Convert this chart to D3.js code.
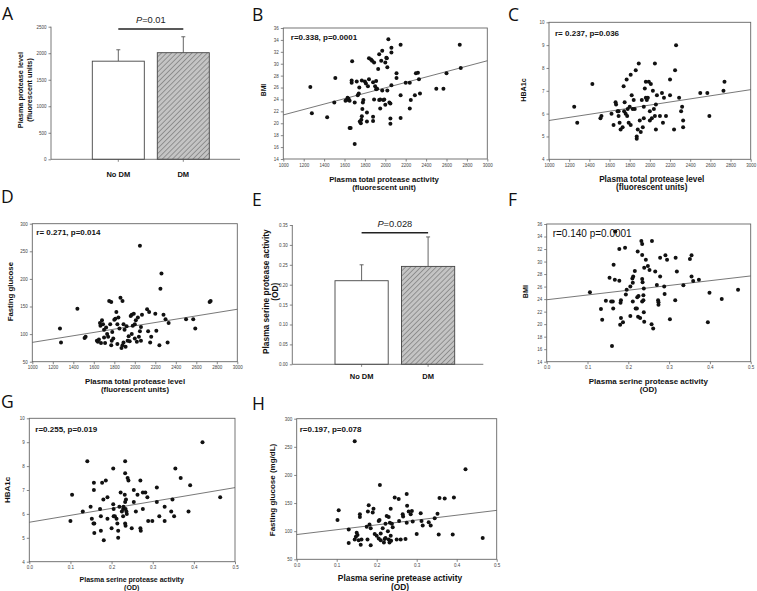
<!DOCTYPE html>
<html><head><meta charset="utf-8">
<script src="https://cdn.jsdelivr.net/npm/d3@7/dist/d3.min.js"></script>
<style>body{margin:0;background:#fff}svg{display:block}</style>
</head><body><svg id="c" width="757" height="591"></svg>
<script>
// ---------------- DATA ----------------
const categories = ["No DM", "DM"];
const meansA = [1850, 2010];
const errsA = [215, 300];
const ticksA = [0, 500, 1000, 1500, 2000, 2500];
const meansE = [0.21, 0.246];
const errsE = [0.04, 0.074];
const ticksE = [0, 0.05, 0.10, 0.15, 0.20, 0.25, 0.30, 0.35];

const ticksTotal = [1000, 1200, 1400, 1600, 1800, 2000, 2200, 2400, 2600, 2800, 3000];
const ticksSerine = [0, 0.1, 0.2, 0.3, 0.4, 0.5];
const ticksBMI = [14, 16, 18, 20, 22, 24, 26, 28, 30, 32, 34, 36];
const ticksHBA = [4, 5, 6, 7, 8, 9, 10];
const ticksGlu = [50, 100, 150, 200, 250, 300];

// regression line values at the two ends of the x domain
const fitB = [21.4, 30.5];
const fitC = [5.7, 7.05];
const fitD = [85, 145];
const fitF = [23.9, 27.7];
const fitG = [5.65, 7.1];
const fitH = [94, 137];

const pointsB = [[1265,26.1],[1280,21.7],[1430,21.0],[1510,27.6],[1500,23.5],[1620,23.9],[1630,24.3],[1640,24.1],[1650,23.8],[1610,23.8],[1650,19.2],[1660,19.2],[1675,30.4],[1670,27.2],[1670,26.8],[1700,23.5],[1700,16.5],[1720,27.0],[1730,24.7],[1740,25.0],[1745,26.0],[1750,20.3],[1760,20.0],[1765,20.6],[1770,21.2],[1775,22.4],[1770,27.2],[1780,23.5],[1785,23.9],[1800,27.0],[1810,26.7],[1820,21.8],[1820,20.3],[1830,26.2],[1840,27.4],[1840,30.9],[1860,30.7],[1870,30.5],[1880,20.4],[1880,21.1],[1880,26.9],[1890,30.2],[1890,24.0],[1900,26.2],[1910,27.1],[1910,25.7],[1920,25.8],[1930,29.1],[1940,31.6],[1940,23.9],[1950,22.5],[1950,24.0],[1960,30.5],[1970,32.2],[1970,25.5],[1980,23.9],[1990,24.0],[2000,23.1],[2000,30.2],[2010,31.0],[2015,30.9],[2020,29.4],[2020,25.5],[2030,34.1],[2040,23.5],[2050,23.3],[2050,20.8],[2050,19.9],[2060,26.4],[2060,32.7],[2060,31.9],[2110,27.6],[2110,28.4],[2150,33.2],[2150,24.7],[2150,20.9],[2200,26.8],[2240,26.8],[2240,22.5],[2250,23.9],[2290,24.7],[2300,28.4],[2320,28.5],[2330,27.4],[2340,25.0],[2500,25.8],[2570,25.8],[2600,28.4],[2730,33.2],[2740,29.3]];

const pointsC = [[1250,6.3],[1280,5.6],[1430,7.3],[1510,5.8],[1520,5.9],[1620,6.0],[1640,5.5],[1660,6.5],[1665,6.4],[1680,6.1],[1690,6.1],[1690,5.9],[1700,5.6],[1710,5.3],[1730,5.4],[1740,7.2],[1745,6.1],[1750,6.5],[1760,6.0],[1770,7.5],[1775,5.9],[1780,6.2],[1790,5.6],[1800,6.3],[1810,7.7],[1810,5.5],[1820,6.8],[1830,6.2],[1840,6.6],[1850,6.2],[1860,7.9],[1870,5.0],[1870,4.9],[1880,5.3],[1890,8.2],[1900,5.7],[1910,5.2],[1920,6.6],[1930,5.4],[1940,6.3],[1940,5.8],[1950,7.1],[1960,6.7],[1960,7.4],[1970,6.6],[1980,6.7],[1990,7.4],[2000,6.1],[2000,5.7],[2010,7.3],[2020,5.8],[2030,7.0],[2040,6.2],[2050,8.2],[2050,5.9],[2060,5.3],[2060,6.4],[2070,6.8],[2100,5.9],[2120,6.9],[2130,5.6],[2140,6.7],[2160,5.9],[2200,7.5],[2200,6.8],[2240,5.3],[2250,7.9],[2260,9.0],[2290,6.7],[2310,6.1],[2320,6.3],[2330,5.4],[2330,5.7],[2500,6.9],[2570,6.9],[2590,5.9],[2730,7.0],[2740,7.4]];

const pointsD = [[1270,110],[1280,85],[1440,146],[1510,93],[1520,95],[1630,88],[1640,86],[1650,90],[1660,120],[1665,115],[1670,84],[1680,125],[1690,118],[1700,94],[1700,108],[1710,84],[1720,112],[1730,100],[1740,95],[1750,160],[1760,118],[1770,80],[1770,158],[1775,88],[1780,104],[1790,92],[1800,126],[1810,128],[1820,140],[1830,118],[1830,82],[1840,130],[1850,110],[1860,166],[1870,75],[1880,160],[1880,80],[1890,85],[1890,118],[1900,108],[1910,77],[1920,114],[1930,88],[1940,96],[1950,87],[1960,133],[1970,100],[1970,135],[1980,115],[1990,137],[2000,92],[2000,118],[2010,125],[2020,86],[2030,130],[2040,95],[2050,260],[2050,105],[2060,113],[2060,88],[2070,135],[2120,145],[2130,105],[2140,140],[2150,85],[2160,95],[2200,137],[2210,106],[2240,80],[2250,182],[2260,210],[2280,135],[2300,127],[2320,85],[2330,120],[2500,127],[2570,127],[2590,110],[2730,158],[2740,160]];

const pointsF = [[0.106,25.1],[0.133,22.4],[0.136,20.7],[0.145,23.75],[0.154,27.4],[0.158,23.6],[0.162,23.6],[0.160,16.5],[0.164,29.5],[0.167,27.1],[0.163,22.5],[0.168,34.8],[0.178,32.0],[0.192,32.2],[0.178,26.95],[0.181,23.4],[0.182,23.8],[0.180,19.9],[0.182,21.0],[0.187,20.3],[0.194,24.75],[0.196,25.5],[0.216,28.5],[0.205,26.0],[0.211,26.6],[0.210,27.3],[0.212,27.6],[0.211,23.6],[0.205,21.3],[0.218,22.5],[0.221,22.5],[0.223,31.6],[0.222,24.3],[0.225,24.5],[0.224,21.2],[0.229,21.0],[0.232,33.3],[0.234,32.8],[0.234,31.05],[0.234,27.2],[0.235,26.7],[0.234,23.6],[0.237,23.8],[0.237,24.6],[0.238,25.7],[0.238,21.9],[0.239,20.4],[0.239,29.0],[0.243,30.3],[0.248,29.3],[0.252,28.65],[0.257,20.0],[0.261,19.3],[0.258,33.3],[0.266,28.4],[0.270,26.25],[0.273,23.8],[0.274,23.5],[0.274,23.1],[0.278,27.6],[0.278,30.6],[0.288,26.0],[0.289,24.8],[0.291,31.0],[0.295,30.3],[0.302,20.8],[0.315,23.8],[0.316,30.6],[0.319,28.4],[0.335,26.2],[0.351,30.4],[0.355,31.0],[0.355,27.6],[0.359,26.9],[0.373,27.1],[0.395,20.3],[0.399,25.0],[0.429,24.0],[0.469,25.5]];

const pointsG = [[0.100,5.7],[0.104,6.8],[0.130,6.1],[0.141,8.2],[0.149,6.3],[0.152,5.8],[0.156,5.6],[0.158,5.6],[0.157,7.3],[0.157,7.0],[0.158,5.2],[0.172,6.2],[0.174,5.9],[0.174,5.3],[0.177,7.3],[0.180,6.6],[0.181,4.9],[0.186,7.4],[0.190,6.7],[0.190,5.8],[0.200,5.4],[0.204,7.9],[0.204,6.4],[0.205,6.2],[0.205,5.9],[0.208,5.9],[0.212,5.8],[0.214,5.6],[0.216,5.3],[0.216,5.0],[0.219,6.3],[0.222,6.9],[0.225,6.1],[0.228,6.2],[0.229,6.3],[0.228,5.9],[0.232,6.8],[0.233,8.2],[0.233,7.7],[0.233,6.5],[0.235,6.6],[0.234,6.2],[0.236,6.1],[0.233,5.6],[0.234,5.5],[0.237,6.0],[0.239,7.5],[0.241,7.4],[0.249,5.4],[0.254,7.0],[0.254,6.5],[0.259,6.1],[0.263,6.8],[0.270,7.4],[0.270,5.4],[0.271,5.3],[0.276,6.2],[0.276,6.9],[0.282,6.9],[0.287,6.7],[0.289,5.7],[0.299,5.7],[0.310,7.1],[0.310,6.5],[0.316,5.9],[0.329,6.3],[0.329,5.7],[0.345,6.1],[0.348,6.6],[0.352,5.9],[0.355,7.9],[0.368,7.5],[0.387,6.1],[0.391,7.2],[0.421,9.0],[0.464,6.7]];

const pointsH = [[0.102,120],[0.105,137],[0.130,103],[0.130,79],[0.145,260],[0.145,85],[0.148,90],[0.150,97],[0.152,93],[0.155,84],[0.158,125],[0.158,130],[0.160,76],[0.162,85],[0.175,108],[0.177,85],[0.178,135],[0.180,146],[0.182,112],[0.185,105],[0.185,75],[0.190,133],[0.192,140],[0.195,95],[0.200,92],[0.205,87],[0.205,118],[0.207,120],[0.208,182],[0.210,84],[0.210,96],[0.215,105],[0.218,80],[0.220,86],[0.222,88],[0.222,113],[0.225,127],[0.228,100],[0.230,125],[0.230,85],[0.232,80],[0.233,115],[0.235,140],[0.235,92],[0.236,83],[0.238,113],[0.240,107],[0.245,160],[0.250,85],[0.255,157],[0.256,118],[0.260,85],[0.265,130],[0.266,126],[0.272,86],[0.275,115],[0.275,166],[0.276,145],[0.280,135],[0.285,130],[0.288,136],[0.290,117],[0.300,95],[0.310,132],[0.312,118],[0.315,110],[0.330,116],[0.335,110],[0.345,123],[0.352,131],[0.355,94],[0.357,159],[0.370,158],[0.390,94],[0.393,160],[0.422,210],[0.465,88]];

// ---------------- DRAWING ----------------
const svg = d3.select("#c");
const FONT = "'Liberation Sans', Arial, sans-serif";
const defs = svg.append("defs");
const pat = defs.append("pattern").attr("id","hatch").attr("patternUnits","userSpaceOnUse")
  .attr("width",3.6).attr("height",3.6).attr("patternTransform","rotate(45)");
pat.append("rect").attr("width",3.6).attr("height",3.6).attr("fill","#c4c4c4");
pat.append("line").attr("x1",0).attr("y1",0).attr("x2",0).attr("y2",3.6).attr("stroke","#666").attr("stroke-width",1.1);

function styleTicks(g){
  g.selectAll("text").attr("font-family",FONT).attr("font-size",4.5).attr("fill","#444");
  g.selectAll("line").attr("stroke","#555").attr("stroke-width",0.7);
  g.select(".domain").remove();
}

function panelLetter(t, x, y){
  svg.append("text").attr("x",x).attr("y",y).text(t)
    .attr("font-family","'Open Sans', 'Noto Sans', sans-serif").attr("font-size",17.5).attr("fill","#111");
}

function rotLabel(lines, x0, yc, size, gap){
  lines.forEach((s,i)=>{
    svg.append("text").attr("transform",`translate(${x0+i*gap},${yc}) rotate(-90)`)
      .attr("text-anchor","middle").attr("dominant-baseline","central")
      .attr("font-family",FONT).attr("font-weight","bold").attr("font-size",size).attr("fill","#111").text(s);
  });
}
function hLabel(lines, xc, y0, size, gap){
  lines.forEach((s,i)=>{
    svg.append("text").attr("x",xc).attr("y",y0+i*gap).attr("text-anchor","middle")
      .attr("font-family",FONT).attr("font-weight","bold").attr("font-size",size).attr("fill","#111").text(s);
  });
}

function scatter(c){
  const x = d3.scaleLinear().domain(c.xd).range([c.l, c.r]);
  const y = d3.scaleLinear().domain(c.yd).range([c.b, c.t]);
  const g = svg.append("g");
  g.append("g").attr("transform",`translate(0,${c.b})`)
    .call(d3.axisBottom(x).tickValues(c.xt).tickSize(2.5).tickPadding(2).tickFormat(c.xf)).call(styleTicks);
  g.append("g").attr("transform",`translate(${c.l},0)`)
    .call(d3.axisLeft(y).tickValues(c.yt).tickSize(2.5).tickPadding(2).tickFormat(c.yf)).call(styleTicks);
  g.append("rect").attr("x",c.l).attr("y",c.t).attr("width",c.r-c.l).attr("height",c.b-c.t)
    .attr("fill","none").attr("stroke","#666").attr("stroke-width",0.9);
  g.append("line").attr("x1",x(c.xd[0])).attr("y1",y(c.fit[0])).attr("x2",x(c.xd[1])).attr("y2",y(c.fit[1]))
    .attr("stroke","#555").attr("stroke-width",0.8);
  g.selectAll("circle").data(c.pts).join("circle")
    .attr("cx",d=>x(d[0])).attr("cy",d=>y(d[1])).attr("r",2).attr("fill","#111");
  g.append("text").attr("x",c.l+c.annDx).attr("y",c.t+c.annDy).text(c.ann)
    .attr("font-family",FONT).attr("font-weight",c.annW||"bold").attr("font-size",c.annS||8).attr("fill","#111");
}

function bars(c){
  const x = d3.scaleBand().domain(categories).range([c.bl, c.br]).paddingInner(0.2).paddingOuter(0.1);
  const y = d3.scaleLinear().domain([c.yt[0], c.yt[c.yt.length-1]]).range([c.b, c.t]);
  const g = svg.append("g");
  g.append("g").attr("transform",`translate(${c.l},0)`)
    .call(d3.axisLeft(y).tickValues(c.yt).tickSize(2.5).tickPadding(2).tickFormat(c.yf)).call(styleTicks);
  g.append("line").attr("x1",c.l).attr("x2",c.l).attr("y1",c.b).attr("y2",c.t).attr("stroke","#555").attr("stroke-width",0.8);
  g.selectAll("line.err").data(categories).join("line").attr("class","err")
    .attr("x1",d=>x(d)+x.bandwidth()/2).attr("x2",d=>x(d)+x.bandwidth()/2)
    .attr("y1",(d,i)=>y(c.means[i])).attr("y2",(d,i)=>y(c.means[i]+c.errs[i]))
    .attr("stroke","#555").attr("stroke-width",0.9);
  g.selectAll("line.cap").data(categories).join("line").attr("class","cap")
    .attr("x1",d=>x(d)+x.bandwidth()/2-2).attr("x2",d=>x(d)+x.bandwidth()/2+2)
    .attr("y1",(d,i)=>y(c.means[i]+c.errs[i])).attr("y2",(d,i)=>y(c.means[i]+c.errs[i]))
    .attr("stroke","#555").attr("stroke-width",0.9);
  g.selectAll("rect.bar").data(categories).join("rect").attr("class","bar")
    .attr("x",d=>x(d)).attr("width",x.bandwidth())
    .attr("y",(d,i)=>y(c.means[i])).attr("height",(d,i)=>y(0)-y(c.means[i]))
    .attr("fill",(d,i)=>i===0?"#fff":"url(#hatch)").attr("stroke","#444").attr("stroke-width",0.9);
  g.append("line").attr("x1",c.l).attr("x2",c.xr).attr("y1",c.b).attr("y2",c.b).attr("stroke","#555").attr("stroke-width",0.8);
  g.selectAll("line.ct").data(categories).join("line").attr("class","ct")
    .attr("x1",d=>x(d)+x.bandwidth()/2).attr("x2",d=>x(d)+x.bandwidth()/2)
    .attr("y1",c.b).attr("y2",c.b+2.5).attr("stroke","#555").attr("stroke-width",0.7);
  g.selectAll("text.cat").data(categories).join("text").attr("class","cat")
    .attr("x",d=>x(d)+x.bandwidth()/2).attr("y",c.b+c.catDy).attr("text-anchor","middle").text(d=>d)
    .attr("font-family",FONT).attr("font-weight","bold").attr("font-size",7.5).attr("fill","#111");
  const cx0 = x(categories[0])+x.bandwidth()/2, cx1 = x(categories[1])+x.bandwidth()/2;
  g.append("line").attr("x1",cx0).attr("x2",cx1).attr("y1",c.brY).attr("y2",c.brY).attr("stroke","#222").attr("stroke-width",1.5);
  const t = g.append("text").attr("x",(cx0+cx1)/2).attr("y",c.brY-c.pDy).attr("text-anchor","middle")
    .attr("font-family",FONT).attr("font-size",9.3).attr("fill","#222");
  t.append("tspan").attr("font-style","italic").text("P");
  t.append("tspan").text(c.p);
}

const f0 = d3.format(".0f"), f1 = d3.format(".1f"), f2 = d3.format(".2f");

// A
panelLetter("A", 2, 20);
bars({l:51, xr:240, bl:85.8, br:215.8, b:159.3, t:26.7, yt:ticksA, yf:f0, means:meansA, errs:errsA, catDy:18, brY:29, pDy:6, p:"=0.01"});
rotLabel(["Plasma protease level","(fluorescent units)"], 20.7, 90, 7.3, 9);

// B
panelLetter("B", 252, 20.5);
scatter({l:283.3, r:487.3, t:28, b:159, xd:[1000,3000], yd:[14,36], xt:ticksTotal, yt:ticksBMI, xf:f0, yf:f0, fit:fitB, pts:pointsB, ann:"r=0.338, p=0.0001", annDx:7.5, annDy:11.5});
rotLabel(["BMI"], 263.5, 90, 6.8, 0);
hLabel(["Plasma total protease activity","(fluorescent unit)"], 384, 181.5, 7.8, 8.6);

// C
panelLetter("C", 508, 21);
scatter({l:549, r:750.7, t:22.3, b:159.3, xd:[1000,3000], yd:[4,10], xt:ticksTotal, yt:ticksHBA, xf:f0, yf:f0, fit:fitC, pts:pointsC, ann:"r= 0.237, p=0.036", annDx:6, annDy:13.5});
rotLabel(["HBA1c"], 523, 90, 7.2, 0);
hLabel(["Plasma total protease level","(fluorescent units)"], 651.7, 181.5, 8.2, 8.8);

// D
panelLetter("D", 1, 203);
scatter({l:32.3, r:237.3, t:223.7, b:361.7, xd:[1000,3000], yd:[50,300], xt:ticksTotal, yt:ticksGlu, xf:f0, yf:f0, fit:fitD, pts:pointsD, ann:"r= 0.271, p=0.014", annDx:4, annDy:11.5});
rotLabel(["Fasting glucose"], 10, 291.7, 7.8, 0);
hLabel(["Plasma total protease level","(fluorescent units)"], 135, 383.5, 7.8, 8.6);

// E
panelLetter("E", 252, 206);
bars({l:292.3, xr:483.3, bl:328.35, br:461.35, b:364.3, t:225, yt:ticksE, yf:f2, means:meansE, errs:errsE, catDy:15, brY:232.7, pDy:6, p:"=0.028"});
rotLabel(["Plasma serine protease activity","(OD)"], 265.5, 291.7, 8.4, 9.5);

// F
panelLetter("F", 508, 206);
scatter({l:546.7, r:750.7, t:224, b:361.7, xd:[0,0.5], yd:[14,36], xt:ticksSerine, yt:ticksBMI, xf:f1, yf:f0, fit:fitF, pts:pointsF, ann:"r=0.140 p=0.0001", annDx:6, annDy:13, annW:"normal", annS:10});
rotLabel(["BMI"], 525, 291.7, 7.2, 0);
hLabel(["Plasma serine protease activity","(OD)"], 648.3, 383.5, 8, 8.8);

// G
panelLetter("G", 1, 408);
scatter({l:29.3, r:235, t:418.3, b:561.7, xd:[0,0.5], yd:[4,10], xt:ticksSerine, yt:ticksHBA, xf:f1, yf:f0, fit:fitG, pts:pointsG, ann:"r=0.255, p=0.019", annDx:6, annDy:13.5});
rotLabel(["HBA1c"], 7, 490, 8, 0);
hLabel(["Plasma serine protease activity","(OD)"], 131.7, 581.5, 7, 8);

// H
panelLetter("H", 252, 410);
scatter({l:296.7, r:496.7, t:418.7, b:559.3, xd:[0,0.5], yd:[50,300], xt:ticksSerine, yt:ticksGlu, xf:f1, yf:f0, fit:fitH, pts:pointsH, ann:"r=0.197, p=0.078", annDx:3, annDy:13.5});
rotLabel(["Fasting glucose (mg/dL)"], 272, 490, 8, 0);
hLabel(["Plasma serine pretease activity","(OD)"], 400, 581, 8.4, 9);
</script></body></html>
